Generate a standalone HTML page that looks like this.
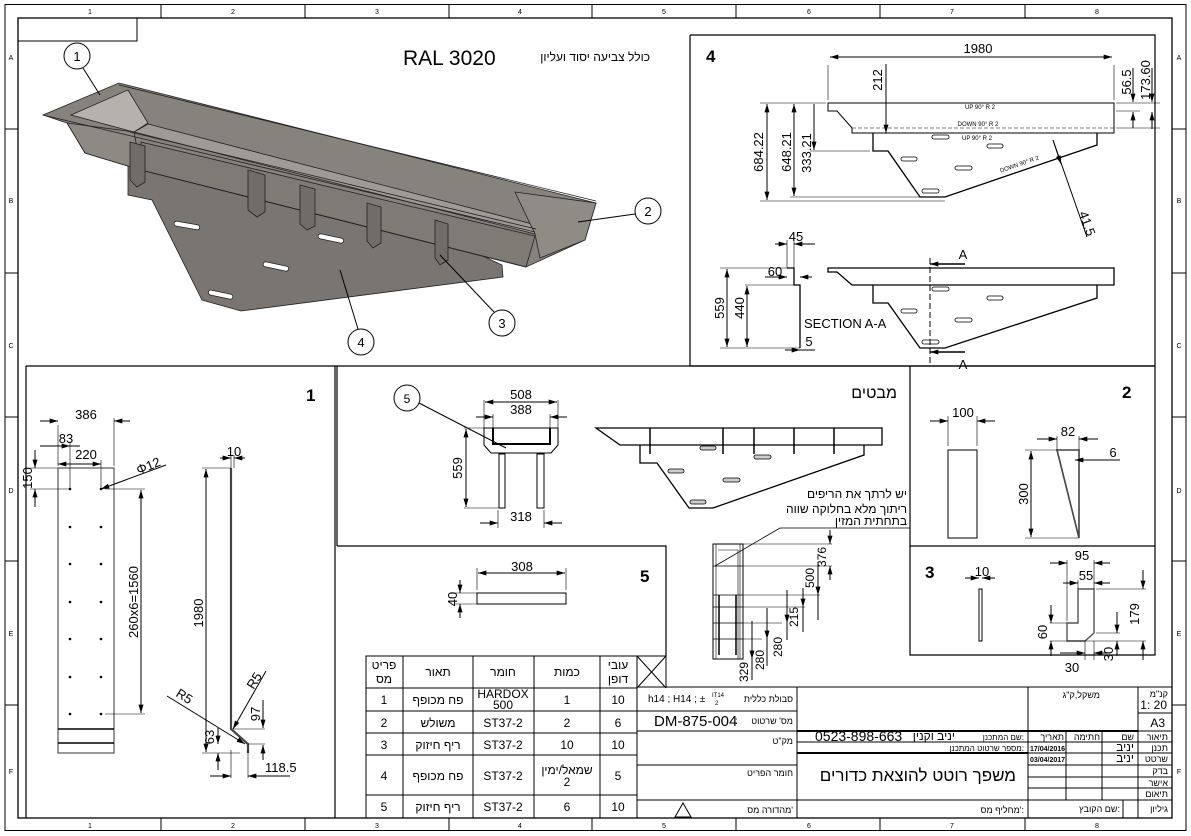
<!DOCTYPE html>
<html><head><meta charset="utf-8"><style>
html,body{margin:0;padding:0;background:#fff;width:1191px;height:836px;overflow:hidden}
svg{display:block}
text{font-family:"Liberation Sans","Noto Sans CJK SC",sans-serif;fill:#000}
.h{font-family:"Liberation Sans","DejaVu Sans",sans-serif}
</style></head><body>
<svg width="1191" height="836" viewBox="0 0 1191 836" xmlns="http://www.w3.org/2000/svg">
<defs>
<marker id="a" viewBox="0 0 10 6" refX="10" refY="3" markerWidth="10" markerHeight="5" orient="auto-start-reverse" markerUnits="userSpaceOnUse"><path d="M0,0L10,3L0,6z" fill="#000"/></marker>
</defs>
<g fill="none" stroke="#000" stroke-width="1">
<rect x="5" y="4.5" width="1181" height="826"/>
<rect x="18" y="18" width="1154" height="800" stroke-width="1.3"/>
<rect x="18" y="18" width="119" height="23"/>
<path d="M161,5V18M305,5V18M449,5V18M592,5V18M736,5V18M880,5V18M1025,5V18M161,818V831M305,818V831M449,818V831M592,818V831M736,818V831M880,818V831M1025,818V831M5,129H18M5,273H18M5,417H18M5,561H18M5,705H18M1172,129H1186M1172,273H1186M1172,417H1186M1172,561H1186M1172,705H1186"/>
</g>
<g font-size="7" text-anchor="middle">
<text x="90" y="14">1</text><text x="233" y="14">2</text><text x="377" y="14">3</text><text x="520" y="14">4</text><text x="664" y="14">5</text><text x="809" y="14">6</text><text x="952" y="14">7</text><text x="1097" y="14">8</text>
<text x="90" y="828">1</text><text x="233" y="828">2</text><text x="377" y="828">3</text><text x="520" y="828">4</text><text x="664" y="828">5</text><text x="809" y="828">6</text><text x="952" y="828">7</text><text x="1097" y="828">8</text>
<text x="11" y="60">A</text><text x="11" y="203">B</text><text x="11" y="348">C</text><text x="11" y="493">D</text><text x="11" y="636">E</text><text x="11" y="774">F</text>
<text x="1179" y="60">A</text><text x="1179" y="203">B</text><text x="1179" y="348">C</text><text x="1179" y="493">D</text><text x="1179" y="636">E</text><text x="1179" y="774">F</text>
</g>

<!-- 3D view -->
<text x="403" y="65" font-size="21">RAL 3020</text>
<text x="650" y="61" font-size="12" text-anchor="end" class="h">כולל צביעה יסוד ועליון</text>
<g stroke="#222" stroke-width="0.8">
<polygon points="128,142 128,195 152,200 202,300 241,311 503,277 502,265 470,250 141,160" fill="#7a7570"/>
<polygon points="43,115 119,83 596,203 585,240 526,267 141,170 85,153 67,123" fill="#86827c"/>
<polygon points="67,123 134,132 141,170 85,153" fill="#8d8983"/>
<polygon points="71,115 128,90 148,123 134,132" fill="#b5b1ab"/>
<polygon points="134,132 148,124 540,226 535,234" fill="#9e9a94"/>
<polygon points="141,142 535,236 526,267 141,170" fill="#7e7a74"/>
<polygon points="515,192 596,203 585,240 540,258 535,234" fill="#8f8b85"/>
<path d="M43,115L535,232M119,85L596,201M141,170L526,267M130,132L536,229" fill="none"/>
</g>
<g fill="#716c67" stroke="#222" stroke-width="0.8">
<polygon points="130,142 145,146 145,182 137,187 130,180"/>
<polygon points="248,170 265,175 265,212 257,217 248,210"/>
<polygon points="300,185 315,189 315,226 307,230 300,224"/>
<polygon points="367,203 381,207 381,243 373,248 367,241"/>
<polygon points="435,220 448,224 448,260 440,265 435,258"/>
</g>
<g fill="#fff" stroke="#222" stroke-width="0.8">
<rect x="174" y="223" width="26" height="5" rx="2.5" transform="rotate(10 187 225)"/>
<rect x="318" y="236" width="26" height="5" rx="2.5" transform="rotate(12 331 238)"/>
<rect x="263" y="264" width="26" height="5" rx="2.5" transform="rotate(12 276 266)"/>
<rect x="208" y="292" width="25" height="5" rx="2.5" transform="rotate(12 220 295)"/>
</g>
<g fill="#fff" stroke="#000" stroke-width="1">
<circle cx="77" cy="56" r="13"/><circle cx="648" cy="211" r="13"/><circle cx="502" cy="323" r="13"/><circle cx="361" cy="342" r="13"/>
<path d="M83,68L100,95M635,214L578,222M494,312L440,255M358,329L340,270" fill="none"/>
</g>
<g font-size="13" text-anchor="middle"><text x="77" y="61">1</text><text x="648" y="216">2</text><text x="502" y="328">3</text><text x="361" y="347">4</text></g>

<!-- panel borders -->
<g fill="none" stroke="#000" stroke-width="1.2">
<path d="M690,35V366H1155V35H690"/>
<path d="M26,366V818M26,366H1155M335,366V818M337,366V546M337,546H666V656M910,366V655H1155V366M910,546H1155"/>
</g>

<!-- view 4 -->
<text x="706" y="62" font-size="17" font-weight="bold">4</text>
<g fill="none" stroke="#000" stroke-width="1">
<path d="M828,103H1114V133H852V128L837,111H828Z" />
<path d="M873,133V151H888L920,197H945L1097,145V133" stroke-width="1.3"/>
<path d="M852,128H1114M945,197L1097,145" stroke-dasharray="4,2" stroke-width="0.6"/>
<path d="M828,100V65M1114,100V65" stroke-width="0.6"/>
<path d="M830,57H1112" marker-start="url(#a)" marker-end="url(#a)"/>
<path d="M886,64V133" marker-end="url(#a)"/>
<path d="M760,103H826M760,201H945M790,197H920M810,151H870" stroke-width="0.6"/>
<path d="M767,104V200" marker-start="url(#a)" marker-end="url(#a)"/>
<path d="M794,104V196" marker-start="url(#a)" marker-end="url(#a)"/>
<path d="M814,104V150" marker-end="url(#a)"/>
<path d="M1116,103H1160M1116,111H1140M1116,128H1160" stroke-width="0.6"/>
<path d="M1133,68V102" marker-end="url(#a)"/><path d="M1133,128V112" marker-end="url(#a)"/>
<path d="M1152,68V102" marker-end="url(#a)"/><path d="M1152,129V112" marker-end="url(#a)"/>
<path d="M1053,140L1087,237"/><path d="M1053,140L1061,164" marker-end="url(#a)"/>
</g>
<g fill="#fff" stroke="#000" stroke-width="0.8">
<rect x="932" y="135" width="17" height="4" rx="2"/><rect x="987" y="144" width="16" height="4" rx="2"/><rect x="901" y="157" width="16" height="4" rx="2"/><rect x="955" y="166" width="17" height="4" rx="2"/><rect x="922" y="189" width="17" height="4" rx="2"/>
</g>
<g font-size="13" text-anchor="middle">
<text x="978" y="53">1980</text>
<text transform="translate(882,80) rotate(-90)">212</text>
<text transform="translate(763,152) rotate(-90)">684.22</text>
<text transform="translate(791,152) rotate(-90)">648.21</text>
<text transform="translate(811,153) rotate(-90)">333.21</text>
<text transform="translate(1131,82) rotate(-90)">56.5</text>
<text transform="translate(1150,80) rotate(-90)">173.60</text>
<text transform="translate(1083,225) rotate(70)">41.5</text>
</g>
<g font-size="6" text-anchor="middle"><text x="980" y="109">UP 90° R 2</text><text x="978" y="126">DOWN 90° R 2</text><text x="977" y="140">UP 90° R 2</text><text transform="translate(1020,166) rotate(-19)">DOWN 90° R 2</text></g>

<!-- section view -->
<g fill="none" stroke="#000" stroke-width="1.3">
<path d="M828,268H1114V285H852L837,272H828Z"/>
<path d="M873,285V303H888L920,348H945L1097,298V285"/>
<path d="M787,268H794V285H800V348"/>
</g>
<g fill="#fff" stroke="#000" stroke-width="0.8"><rect x="932" y="287" width="17" height="4" rx="2"/><rect x="987" y="296" width="16" height="4" rx="2"/><rect x="901" y="309" width="16" height="4" rx="2"/><rect x="955" y="318" width="17" height="4" rx="2"/><rect x="922" y="340" width="17" height="4" rx="2"/></g>
<g fill="none" stroke="#000" stroke-width="1">
<path d="M930,258V364" stroke-dasharray="6,3"/>
<path d="M965,264H930" marker-end="url(#a)" stroke-width="1.5"/><path d="M965,352H930" marker-end="url(#a)" stroke-width="1.5"/>
<path d="M720,268H790M720,348H800M745,285H794" stroke-width="0.6"/>
<path d="M727,269V347" marker-start="url(#a)" marker-end="url(#a)"/>
<path d="M747,286V347" marker-start="url(#a)" marker-end="url(#a)"/>
<path d="M787,240V268M794,240V268" stroke-width="0.6"/>
<path d="M775,244H787" marker-end="url(#a)"/><path d="M815,244H794" marker-end="url(#a)"/>
<path d="M765,277H787" marker-end="url(#a)"/><path d="M812,277H800" marker-end="url(#a)"/>
<path d="M785,350H800" marker-end="url(#a)"/><path d="M815,350H800"/>
</g>
<g font-size="13" text-anchor="middle">
<text x="963" y="259">A</text><text x="963" y="369">A</text>
<text x="796" y="241">45</text><text x="775" y="276">60</text><text x="809" y="346">5</text>
<text transform="translate(724,308) rotate(-90)">559</text><text transform="translate(744,308) rotate(-90)">440</text>
<text x="804" y="328" text-anchor="start">SECTION A-A</text>
</g>

<!-- panel 1 -->
<text x="306" y="401" font-size="17" font-weight="bold" font-family="Liberation Serif">1</text>
<g fill="none" stroke="#000" stroke-width="1">
<rect x="58" y="468" width="56" height="285" stroke="#555" stroke-width="1.2"/>
<path d="M58,729H114M58,743H114" stroke-width="1.5"/>
<path d="M58,425V466M114,418V466M70,442V489M101,460V489" stroke-width="0.6"/>
<path d="M40,421H58" marker-end="url(#a)"/><path d="M130,421H114" marker-end="url(#a)"/>
<path d="M40,446H70" marker-end="url(#a)"/><path d="M80,446H70"/>
<path d="M58,464H101" marker-start="url(#a)" marker-end="url(#a)"/>
<path d="M30,468H58M30,489H70M105,489H145M105,714H145" stroke-width="0.6"/>
<path d="M35,450V468" marker-end="url(#a)"/><path d="M35,507V489" marker-end="url(#a)"/>
<path d="M141,490V713" marker-start="url(#a)" marker-end="url(#a)"/>
<path d="M166,465L101,489" marker-end="url(#a)"/>
<path d="M231,468V729L248,744V753" stroke-width="2.2" stroke="#444"/>
<path d="M202,468H231M202,753H240" stroke-width="0.6"/>
<path d="M206,469V752" marker-start="url(#a)" marker-end="url(#a)"/>
<path d="M220,458H231" marker-end="url(#a)"/><path d="M245,458H234" marker-end="url(#a)"/>
<path d="M231,455V468M234,455V468" stroke-width="0.6"/>
<path d="M167,696L245,744" marker-end="url(#a)"/>
<path d="M266,671L233,729" marker-end="url(#a)"/>
<path d="M233,729H265M248,744H265M231,750V778M248,750V778" stroke-width="0.6"/>
<path d="M263,700V728" marker-end="url(#a)"/><path d="M263,760V745" marker-end="url(#a)"/>
<path d="M218,728V744" marker-end="url(#a)"/><path d="M218,770V753" marker-end="url(#a)"/>
<path d="M210,776H231" marker-end="url(#a)"/><path d="M290,776H248" marker-end="url(#a)"/>
</g>
<g fill="#000"><circle cx="70" cy="489" r="1.3"/><circle cx="101" cy="489" r="1.3"/><circle cx="70" cy="527" r="1.3"/><circle cx="101" cy="527" r="1.3"/><circle cx="70" cy="564" r="1.3"/><circle cx="101" cy="564" r="1.3"/><circle cx="70" cy="602" r="1.3"/><circle cx="101" cy="602" r="1.3"/><circle cx="70" cy="639" r="1.3"/><circle cx="101" cy="639" r="1.3"/><circle cx="70" cy="677" r="1.3"/><circle cx="101" cy="677" r="1.3"/><circle cx="70" cy="714" r="1.3"/><circle cx="101" cy="714" r="1.3"/></g>
<g font-size="13" text-anchor="middle">
<text x="86" y="419">386</text><text x="66" y="443">83</text><text x="86" y="459">220</text>
<text transform="translate(32,478) rotate(-90)">150</text>
<text transform="translate(150,470) rotate(-22)">Φ12</text>
<text transform="translate(138,602) rotate(-90)">260x6=1560</text>
<text transform="translate(203,613) rotate(-90)">1980</text>
<text x="234" y="456">10</text>
<text transform="translate(182,700) rotate(32)">R5</text>
<text transform="translate(258,683) rotate(-58)">R5</text>
<text transform="translate(260,714) rotate(-90)">97</text>
<text transform="translate(214,737) rotate(-90)">63</text>
<text x="265" y="772" text-anchor="start">118.5</text>
</g>

<!-- middle views -->
<text x="897" y="398" font-size="16" text-anchor="end" class="h">מבטים</text>
<g fill="none" stroke="#000" stroke-width="1">
<circle cx="407" cy="398" r="13" fill="#fff"/>
<path d="M419,403L506,448"/>
<path d="M484,428H558V445L551,453H491L484,445Z" stroke-width="1"/>
<path d="M493,428V444H550V428" stroke-width="2"/>
<rect x="499" y="454" width="6" height="54"/><rect x="537" y="454" width="7" height="54"/>
<path d="M484,400V428M558,400V428M493,414V428M550,414V428M498,510V528M544,510V528M464,428H484M464,508H499" stroke-width="0.6"/>
<path d="M485,402H557" marker-start="url(#a)" marker-end="url(#a)"/>
<path d="M476,417H493" marker-end="url(#a)"/><path d="M567,417H550" marker-end="url(#a)"/>
<path d="M466,429V507" marker-start="url(#a)" marker-end="url(#a)"/>
<path d="M480,523H498" marker-end="url(#a)"/><path d="M562,523H544" marker-end="url(#a)"/>
<path d="M596,428H882V445H620Z" stroke-width="1.3"/>
<path d="M640,445V463H657L689,508H713L864,455V445" stroke-width="1.3"/>
<path d="M650,428V454M723,428V454M754,428V454M794,428V454M834,428V454" stroke-width="1.5"/>
</g>
<text x="407" y="403" font-size="12" text-anchor="middle">5</text>
<g fill="#ccc" stroke="#000" stroke-width="0.8"><rect x="700" y="446" width="16" height="4" rx="2"/><rect x="754" y="455" width="17" height="4" rx="2"/><rect x="668" y="469" width="16" height="4" rx="2"/><rect x="723" y="478" width="17" height="4" rx="2"/><rect x="690" y="500" width="16" height="4" rx="2"/></g>
<g font-size="13" text-anchor="middle">
<text x="521" y="399">508</text><text x="521" y="414">388</text>
<text transform="translate(462,468) rotate(-90)">559</text>
<text x="521" y="521">318</text>
</g>
<g font-size="12" text-anchor="end" class="h"><text x="907" y="498">יש לרתך את הריפים</text><text x="907" y="513">ריתוך מלא בחלוקה שווה</text><text x="907" y="525">בתחתית המזין</text></g>

<!-- ladder -->
<g fill="none" stroke="#000" stroke-width="1">
<rect x="713" y="544" width="30" height="115"/>
<path d="M716,544V659M740,544V659M718,550H738V659" stroke-width="0.6"/>
<path d="M713,566H743M713,595H743M713,607H743M713,623H743M713,639H743" stroke-width="0.8"/>
<path d="M719,595V655M736,595V655" stroke-width="1.5"/>
<path d="M715,566L780,528H910" stroke-width="0.8"/>
<path d="M743,544H832M743,566H832M743,595H820M743,607H805M743,623H782M743,639H762" stroke-width="0.6"/>
<path d="M830,530V544" marker-end="url(#a)"/><path d="M830,580V566" marker-end="url(#a)"/>
<path d="M818,562V595" marker-end="url(#a)"/><path d="M818,620V595"/>
<path d="M803,588V607" marker-end="url(#a)"/><path d="M803,632V607"/>
<path d="M787,590V623" marker-end="url(#a)"/><path d="M787,640V623"/>
<path d="M767,608V639" marker-end="url(#a)"/><path d="M767,666V639"/>
<path d="M752,621V659" marker-end="url(#a)"/><path d="M752,680V659"/>
</g>
<g font-size="12" text-anchor="middle">
<text transform="translate(826,557) rotate(-90)">376</text>
<text transform="translate(814,578) rotate(-90)">500</text>
<text transform="translate(798,617) rotate(-90)">215</text>
<text transform="translate(782,647) rotate(-90)">280</text>
<text transform="translate(764,660) rotate(-90)">280</text>
<text transform="translate(748,672) rotate(-90)">329</text>
</g>

<!-- panel 5 -->
<text x="640" y="582" font-size="17" font-weight="bold">5</text>
<g fill="none" stroke="#000" stroke-width="1">
<rect x="477" y="593" width="89" height="11"/>
<path d="M477,568V590M566,568V590M455,593H477M455,604H477" stroke-width="0.6"/>
<path d="M478,573H565" marker-start="url(#a)" marker-end="url(#a)"/>
<path d="M460,580V593" marker-end="url(#a)"/><path d="M460,618V604" marker-end="url(#a)"/>
</g>
<text x="522" y="571" font-size="13" text-anchor="middle">308</text>
<text transform="translate(457,599) rotate(-90)" font-size="13" text-anchor="middle">40</text>

<!-- panel 2 -->
<text x="1122" y="398" font-size="17" font-weight="bold">2</text>
<g fill="none" stroke="#000" stroke-width="1">
<rect x="948" y="450" width="29" height="88"/>
<path d="M948,416V446M977,416V446" stroke-width="0.6"/>
<path d="M930,421H948" marker-end="url(#a)"/><path d="M995,421H977" marker-end="url(#a)"/>
<path d="M1057,450H1079V538Z" stroke-width="1.6" stroke="#444"/>
<path d="M1057,436V450M1079,436V450M1025,450H1057M1025,538H1079" stroke-width="0.6"/>
<path d="M1037,439H1057" marker-end="url(#a)"/><path d="M1098,439H1079" marker-end="url(#a)"/>
<path d="M1120,460H1075" marker-end="url(#a)"/>
<path d="M1031,451V537" marker-start="url(#a)" marker-end="url(#a)"/>
</g>
<g font-size="13" text-anchor="middle"><text x="963" y="417">100</text><text x="1068" y="436">82</text><text x="1113" y="457">6</text><text transform="translate(1028,494) rotate(-90)">300</text></g>

<!-- panel 3 -->
<text x="925" y="578" font-size="17" font-weight="bold">3</text>
<g fill="none" stroke="#000" stroke-width="1">
<rect x="979" y="589" width="3" height="52"/>
<path d="M965,578H979" marker-end="url(#a)"/><path d="M995,578H982" marker-end="url(#a)"/>
<path d="M1078,589H1094V633L1085,641H1067V623H1078Z" stroke="#555" stroke-width="1.4"/>
<path d="M1067,560V621M1094,560V589M1078,580V589M1096,589H1146M1050,623H1067M1050,641H1146M1096,633H1120M1085,641V660M1094,641V660" stroke-width="0.6"/>
<path d="M1050,563H1067" marker-end="url(#a)"/><path d="M1110,563H1094" marker-end="url(#a)"/>
<path d="M1063,583H1078" marker-end="url(#a)"/><path d="M1110,583H1094" marker-end="url(#a)"/>
<path d="M1143,570V589" marker-end="url(#a)"/><path d="M1143,660V641" marker-end="url(#a)"/>
<path d="M1051,605V623" marker-end="url(#a)"/><path d="M1051,656V641" marker-end="url(#a)"/>
<path d="M1117,612V633" marker-end="url(#a)"/><path d="M1117,656V641" marker-end="url(#a)"/>
<path d="M1060,653H1085" marker-end="url(#a)"/><path d="M1110,653H1094" marker-end="url(#a)"/>
</g>
<g font-size="13" text-anchor="middle"><text x="982" y="576">10</text><text x="1082" y="560">95</text><text x="1086" y="580">55</text>
<text transform="translate(1139,614) rotate(-90)">179</text><text transform="translate(1047,632) rotate(-90)">60</text><text transform="translate(1113,654) rotate(-90)">30</text><text x="1072" y="672">30</text></g>

<!-- parts table -->
<g fill="none" stroke="#000" stroke-width="1">
<rect x="366" y="656" width="271" height="162"/>
<path d="M403,656V818M473,656V818M534,656V818M600,656V818M637,656V818"/>
<path d="M366,688H637M366,711H637M366,733H637M366,755H637M366,795H637"/>
<path d="M637,656H666V688M637,656L666,688M666,656L637,688"/>
</g>
<g font-size="12" text-anchor="middle" class="h">
<text x="384" y="669">פריט</text><text x="384" y="683">מס</text>
<text x="438" y="676">תאור</text><text x="503" y="676">חומר</text><text x="567" y="676">כמות</text>
<text x="618" y="669">עובי</text><text x="618" y="683">דופן</text>
<text x="384" y="704">1</text><text x="438" y="704">פח מכופף</text><text x="503" y="698">HARDOX</text><text x="503" y="709">500</text><text x="567" y="704">1</text><text x="618" y="704">10</text>
<text x="384" y="727">2</text><text x="438" y="727">משולש</text><text x="503" y="727">ST37-2</text><text x="567" y="727">2</text><text x="618" y="727">6</text>
<text x="384" y="749">3</text><text x="438" y="749">ריף חיזוק</text><text x="503" y="749">ST37-2</text><text x="567" y="749">10</text><text x="618" y="749">10</text>
<text x="384" y="780">4</text><text x="438" y="780">פח מכופף</text><text x="503" y="780">ST37-2</text><text x="567" y="774">שמאל/ימין</text><text x="567" y="786">2</text><text x="618" y="780">5</text>
<text x="384" y="811">5</text><text x="438" y="811">ריף חיזוק</text><text x="503" y="811">ST37-2</text><text x="567" y="811">6</text><text x="618" y="811">10</text>
</g>

<!-- title block -->
<g fill="none" stroke="#000" stroke-width="1">
<rect x="637" y="687" width="535" height="131"/>
<path d="M797,687V818M1028,687V818M1138,687V818"/>
<path d="M637,711H797M637,731H1138M637,765H797M637,800H1172" />
<path d="M797,731H1138" stroke-width="2"/><path d="M797,753H1028" stroke-width="2"/>
<path d="M797,742H1138M1028,753H1138M1028,765H1138M1028,777H1138M1028,788H1138"/>
<path d="M1066,731V800M1102,731V800M1123,800V818"/>
<path d="M1138,713H1172M1138,731H1172M1138,742H1172M1138,753H1172M1138,765H1172M1138,777H1172M1138,788H1172"/>
<path d="M675,817L683,803L691,817Z"/>
</g>
<g font-size="9" text-anchor="end" class="h">
<text x="793" y="702">סבולת כללית</text><text x="793" y="724">מס' שרטוט</text><text x="793" y="744">מק"ט</text><text x="793" y="776">חומר הפריט</text><text x="793" y="813">מהדורה מס'</text>
<text x="1024" y="813">מחליף מס':</text><text x="1100" y="698">משקל,ק"ג</text><text x="1168" y="697">קנ"מ</text>
<text x="1024" y="740" font-size="8">שם המתכנן:</text><text x="1024" y="751" font-size="8">מספר שרטוט המתכנן:</text>
<text x="1064" y="740">תאריך</text><text x="1100" y="740">חתימה</text><text x="1134" y="740">שם</text>
<text x="1168" y="740">תיאור</text><text x="1168" y="751">תכנן</text><text x="1168" y="762">שרטט</text><text x="1168" y="774">בדק</text><text x="1168" y="786">אישר</text><text x="1168" y="797">תיאום</text>
<text x="1168" y="812">גיליון</text><text x="1120" y="812">שם הקובץ:</text>
<text x="1134" y="751" font-size="12">יניב</text><text x="1134" y="762" font-size="12">יניב</text>
<text x="955" y="740" font-size="12">יניב וקנין</text>
</g>
<g font-size="7" font-weight="bold"><text x="1030" y="751">17/04/2016</text><text x="1030" y="762">03/04/2017</text></g>
<text x="648" y="702" font-size="10">h14 ; H14 ; ±</text>
<text x="712" y="697" font-size="6">IT14</text><text x="715" y="705" font-size="6">2</text>
<text x="654" y="726" font-size="15">DM-875-004</text><text x="735" y="724" font-size="10">:</text>
<text x="815" y="741" font-size="14">0523-898-663</text>
<text x="1167" y="709" font-size="12" text-anchor="end">1: 20</text>
<text x="1165" y="727" font-size="12" text-anchor="end">A3</text>
<text x="1016" y="781" font-size="17" text-anchor="end" class="h">משפך רוטט להוצאת כדורים</text>
</svg>
</body></html>
